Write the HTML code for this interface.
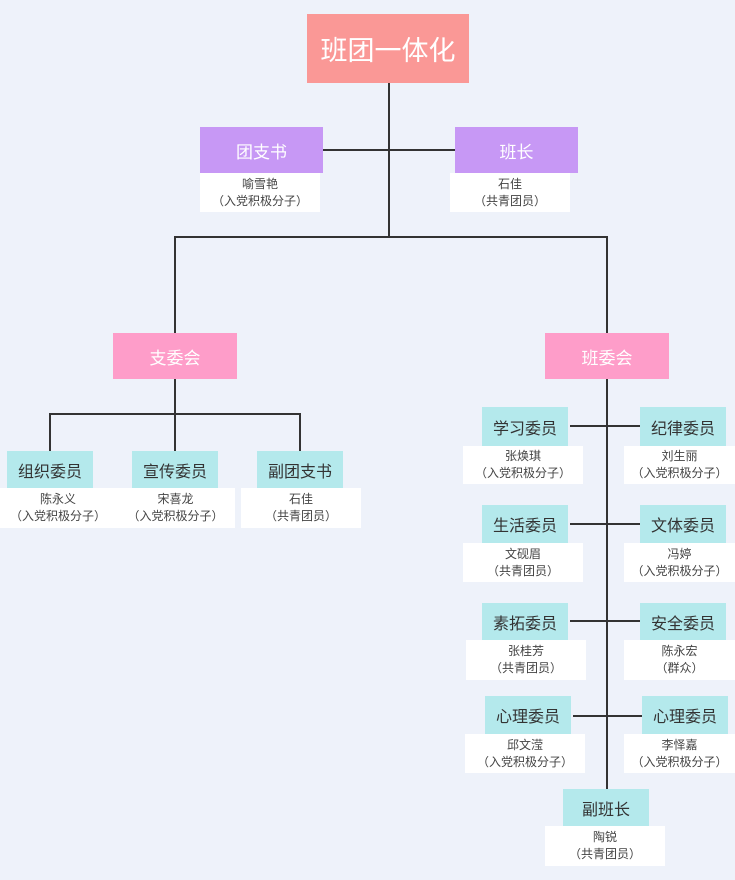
<!DOCTYPE html>
<html><head><meta charset="utf-8"><style>
*{margin:0;padding:0;box-sizing:border-box}
body{width:735px;height:880px;background:#eef2fa;position:relative;overflow:hidden;font-family:"Liberation Sans","Noto Sans CJK SC",sans-serif}
.b{position:absolute;display:flex;align-items:center;justify-content:center}
.r{background:#fa9896;color:#fff;font-size:27px}
.p{background:#c798f5;color:#fff;font-size:17px}
.k{background:#fe9dc9;color:#fff;font-size:17px}
.c{background:#b4e9ec;color:#333;font-size:16px}
.n{background:#fff;color:#444;font-size:12px;line-height:17px;text-align:center;flex-direction:column}
.l{position:absolute;background:#333}
</style></head><body>
<!-- lines -->
<div class="l" style="left:388px;top:83px;width:2px;height:155px"></div>
<div class="l" style="left:323px;top:149px;width:132px;height:2px"></div>
<div class="l" style="left:174px;top:236px;width:434px;height:2px"></div>
<div class="l" style="left:174px;top:236px;width:2px;height:97px"></div>
<div class="l" style="left:606px;top:236px;width:2px;height:97px"></div>
<div class="l" style="left:174px;top:379px;width:2px;height:72px"></div>
<div class="l" style="left:49px;top:413px;width:252px;height:2px"></div>
<div class="l" style="left:49px;top:413px;width:2px;height:38px"></div>
<div class="l" style="left:299px;top:413px;width:2px;height:38px"></div>
<div class="l" style="left:606px;top:379px;width:2px;height:412px"></div>
<div class="l" style="left:570px;top:425px;width:70px;height:2px"></div>
<div class="l" style="left:570px;top:523px;width:70px;height:2px"></div>
<div class="l" style="left:570px;top:620px;width:70px;height:2px"></div>
<div class="l" style="left:573px;top:715px;width:69px;height:2px"></div>

<div class="b r" style="left:307px;top:14px;width:162px;height:69px">班团一体化</div>
<div class="b p" style="left:200px;top:127px;width:123px;height:46px">团支书</div>
<div class="b n" style="left:200px;top:173px;width:120px;height:39px"><div>喻雪艳</div><div>（入党积极分子）</div></div>
<div class="b p" style="left:455px;top:127px;width:123px;height:46px">班长</div>
<div class="b n" style="left:450px;top:173px;width:120px;height:39px"><div>石佳</div><div>（共青团员）</div></div>

<div class="b k" style="left:113px;top:333px;width:124px;height:46px">支委会</div>
<div class="b k" style="left:545px;top:333px;width:124px;height:46px">班委会</div>

<div class="b c" style="left:7px;top:451px;width:86px;height:37px">组织委员</div>
<div class="b n" style="left:0px;top:488px;width:116px;height:40px"><div>陈永义</div><div>（入党积极分子）</div></div>
<div class="b c" style="left:132px;top:451px;width:86px;height:37px">宣传委员</div>
<div class="b n" style="left:116px;top:488px;width:119px;height:40px"><div>宋喜龙</div><div>（入党积极分子）</div></div>
<div class="b c" style="left:257px;top:451px;width:86px;height:37px">副团支书</div>
<div class="b n" style="left:241px;top:488px;width:120px;height:40px"><div>石佳</div><div>（共青团员）</div></div>

<div class="b c" style="left:482px;top:407px;width:86px;height:39px">学习委员</div>
<div class="b n" style="left:463px;top:446px;width:120px;height:38px"><div>张焕琪</div><div>（入党积极分子）</div></div>
<div class="b c" style="left:640px;top:407px;width:86px;height:39px">纪律委员</div>
<div class="b n" style="left:624px;top:446px;width:111px;height:38px"><div>刘生丽</div><div>（入党积极分子）</div></div>

<div class="b c" style="left:482px;top:505px;width:86px;height:38px">生活委员</div>
<div class="b n" style="left:463px;top:543px;width:120px;height:39px"><div>文砚眉</div><div>（共青团员）</div></div>
<div class="b c" style="left:640px;top:505px;width:86px;height:38px">文体委员</div>
<div class="b n" style="left:624px;top:543px;width:111px;height:39px"><div>冯婷</div><div>（入党积极分子）</div></div>

<div class="b c" style="left:482px;top:603px;width:86px;height:37px">素拓委员</div>
<div class="b n" style="left:466px;top:640px;width:120px;height:40px"><div>张桂芳</div><div>（共青团员）</div></div>
<div class="b c" style="left:640px;top:603px;width:86px;height:37px">安全委员</div>
<div class="b n" style="left:624px;top:640px;width:111px;height:40px"><div>陈永宏</div><div>（群众）</div></div>

<div class="b c" style="left:485px;top:696px;width:86px;height:38px">心理委员</div>
<div class="b n" style="left:465px;top:734px;width:120px;height:39px"><div>邱文滢</div><div>（入党积极分子）</div></div>
<div class="b c" style="left:642px;top:696px;width:86px;height:38px">心理委员</div>
<div class="b n" style="left:624px;top:734px;width:111px;height:39px"><div>李怿嘉</div><div>（入党积极分子）</div></div>

<div class="b c" style="left:563px;top:789px;width:86px;height:37px">副班长</div>
<div class="b n" style="left:545px;top:826px;width:120px;height:40px"><div>陶锐</div><div>（共青团员）</div></div>
</body></html>
